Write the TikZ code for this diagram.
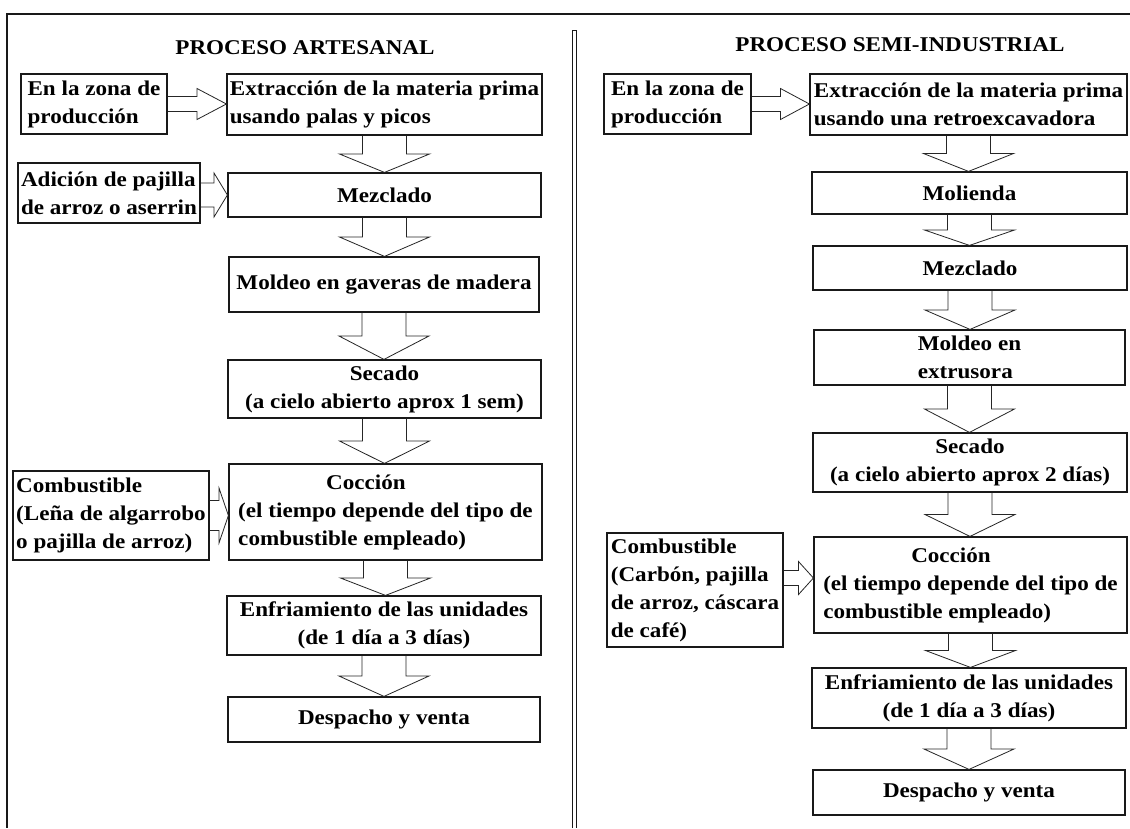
\documentclass[tikz,border=0pt]{standalone}
\usepackage{fontspec}
\setmainfont{Liberation Serif}[FakeStretch=1.1]
\usetikzlibrary{calc}
\tikzset{
  box/.style={draw=black!90, line width=1.2pt, inner sep=0pt, fill=white,
    font=\bfseries\fontsize{21}{28}\selectfont},
  blk/.style={draw=black!85, line width=0.8pt, line join=miter},
  ttl/.style={font=\bfseries\fontsize{21}{25}\selectfont, inner sep=0pt},
  framel/.style={draw=black!90, line width=1.2pt}
}
% down block arrow from node #1 to node #2
\newcommand{\DArr}[2]{%
  \draw[blk] let \p1=(#1.south), \p2=(#2.north), \p3=($(\p1)!0.5!(\p2)$) in
    (\x1-22pt,\y1) -- (\x1-22pt,\y3) -- (\x1-45pt,\y3) -- (\x1,\y2)
    -- (\x1+45pt,\y3) -- (\x1+22pt,\y3) -- (\x1+22pt,\y1);}
% right block arrow from node #1 to node #2; #3 shaft half height, #4 head half height, #5 vertical shift
\newcommand{\RArr}[5]{%
  \draw[blk] let \p1=($(#1.east)+(0pt,#5)$), \p2=(#2.west), \p3=($(\p1)!0.5!(\p2)$) in
    (\x1,\y1+#3) -- (\x3,\y1+#3) -- (\x3,\y1+#4) -- (\x2,\y1)
    -- (\x3,\y1-#4) -- (\x3,\y1-#3) -- (\x1,\y1-#3);}
\begin{document}
\begin{tikzpicture}[x=1pt,y=-1pt]
\useasboundingbox[fill=white] (0,0) rectangle (1130,828);
% frame
\draw[framel] (1130,14) -- (7,14) -- (7,828);
\draw[draw=black!90, line width=0.9pt] (572,828) -- (572,30) -- (576,30) -- (576,828);

% titles
\node[ttl] (titleL) at (305,48) {PROCESO ARTESANAL};
\node[ttl] (titleR) at (900,45) {PROCESO SEMI-INDUSTRIAL};

% left column
\node[box, align=left, minimum width=146pt, minimum height=60pt] (zonaL) at (94,104) {En la zona de\\producción};
\node[box, align=left, minimum width=315pt, minimum height=61pt] (extL) at (384.5,104.5) {Extracción de la materia prima\\usando palas y picos};
\node[box, align=left, minimum width=182pt, minimum height=60pt] (adiL) at (109,193) {Adición de pajilla\\de arroz o aserrin};
\node[box, minimum width=313pt, minimum height=44pt] (mezL) at (384.5,195) {Mezclado};
\node[box, minimum width=310pt, minimum height=55pt] (molL) at (384,284.5) {Moldeo en gaveras de madera};
\node[box, align=center, minimum width=313pt, minimum height=58pt] (secL) at (384.5,389) {Secado\\(a cielo abierto aprox 1 sem)};
\node[box, align=left, minimum width=196pt, minimum height=89pt] (combL) at (111,515.5) {Combustible\\(Leña de algarrobo\\o pajilla de arroz)};
\node[box, align=left, minimum width=313pt, minimum height=96pt] (cocL) at (385.5,512) {\hspace*{88pt}Cocción\\(el tiempo depende del tipo de\\combustible empleado)};
\node[box, align=center, minimum width=314pt, minimum height=59pt] (enfL) at (384,625.5) {Enfriamiento de las unidades\\(de 1 día a 3 días)};
\node[box, minimum width=312pt, minimum height=45pt] (desL) at (384,719.5) {Despacho y venta};

% right column
\node[box, align=left, minimum width=147pt, minimum height=60pt] (zonaR) at (677.5,104) {En la zona de\\producción};
\node[box, align=left, minimum width=317pt, minimum height=61pt] (extR) at (968.5,104.5) {Extracción de la materia prima\\usando una retroexcavadora};
\node[box, minimum width=315pt, minimum height=42pt] (molR) at (969.5,193) {Molienda};
\node[box, minimum width=314pt, minimum height=44pt] (mezR) at (970,268) {Mezclado};
\node[box, align=left, minimum width=311pt, minimum height=55pt] (extruR) at (969.5,357.5) {Moldeo en\\extrusora};
\node[box, align=center, minimum width=314pt, minimum height=59pt] (secR) at (970,462.5) {Secado\\(a cielo abierto aprox 2 días)};
\node[box, align=left, minimum width=176pt, minimum height=114pt] (combR) at (695,590) {Combustible\\(Carbón, pajilla\\de arroz, cáscara\\de café)};
\node[box, align=left, minimum width=313pt, minimum height=96pt] (cocR) at (970.5,585) {\hspace*{88pt}Cocción\\(el tiempo depende del tipo de\\combustible empleado)};
\node[box, align=center, minimum width=314pt, minimum height=60pt] (enfR) at (969,698) {Enfriamiento de las unidades\\(de 1 día a 3 días)};
\node[box, minimum width=312pt, minimum height=45pt] (desR) at (969,792.5) {Despacho y venta};

% down arrows
\DArr{extL}{mezL}
\DArr{mezL}{molL}
\DArr{molL}{secL}
\DArr{secL}{cocL}
\DArr{cocL}{enfL}
\DArr{enfL}{desL}
\DArr{extR}{molR}
\DArr{molR}{mezR}
\DArr{mezR}{extruR}
\DArr{extruR}{secR}
\DArr{secR}{cocR}
\DArr{cocR}{enfR}
\DArr{enfR}{desR}

% side arrows
\RArr{zonaL}{extL}{7.5pt}{15.5pt}{0pt}
\RArr{adiL}{mezL}{12pt}{22pt}{-2pt}
\RArr{combL}{cocL}{15pt}{27.5pt}{0pt}
\RArr{zonaR}{extR}{7.5pt}{15.5pt}{0pt}
\RArr{combR}{cocR}{7.5pt}{16.5pt}{12pt}
\end{tikzpicture}
\end{document}
